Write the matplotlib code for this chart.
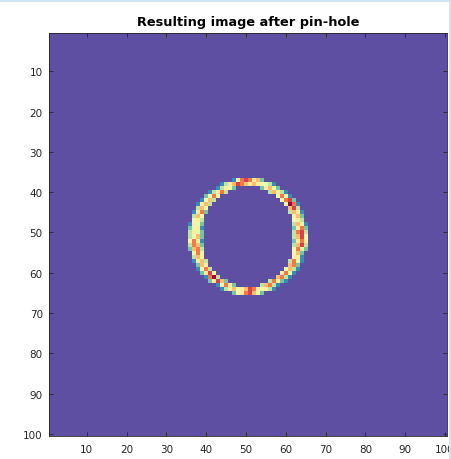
import matplotlib
matplotlib.use("Agg")
import matplotlib.pyplot as plt
import numpy as np
from matplotlib.patches import Rectangle

TITLE = "Resulting image after pin-hole"
GRID_SIZE = 100
TICKS = [10, 20, 30, 40, 50, 60, 70, 80, 90, 100]
LEVEL_MAX = 9

# ring cells: (row, first column, levels 1-9 per cell)
RING_SEGMENTS = [
    (37, 47, "14787562"),
    (38, 44, "13568765654431"),
    (39, 43, "13542"), (39, 54, "25642"),
    (40, 41, "13573"), (40, 56, "36531"),
    (41, 40, "2474"), (41, 58, "4741"),
    (42, 39, "1463"), (42, 59, "4782"),
    (43, 38, "1563"), (43, 60, "4971"),
    (44, 38, "364"), (44, 61, "683"),
    (45, 37, "1572"), (45, 61, "3651"),
    (46, 37, "364"), (46, 62, "562"),
    (47, 37, "453"), (47, 62, "453"),
    (48, 36, "1542"), (48, 62, "3651"),
    (49, 36, "2451"), (49, 62, "2572"),
    (50, 36, "3542"), (50, 62, "3783"),
    (51, 36, "3462"), (51, 62, "3684"),
    (52, 36, "4751"), (52, 62, "2575"),
    (53, 36, "3762"), (53, 62, "3683"),
    (54, 36, "2673"), (54, 62, "4752"),
    (55, 37, "474"), (55, 62, "462"),
    (56, 37, "365"), (56, 62, "551"),
    (57, 37, "1563"), (57, 61, "3741"),
    (58, 38, "265"), (58, 61, "672"),
    (59, 38, "1473"), (59, 60, "4631"),
    (60, 39, "2584"), (60, 59, "5741"),
    (61, 40, "1793"), (61, 58, "6731"),
    (62, 41, "25862"), (62, 56, "37521"),
    (63, 43, "14752"), (63, 54, "36731"),
    (64, 44, "13564568754531"),
    (65, 47, "24578642"),
]


def build_image():
    img = np.zeros((GRID_SIZE, GRID_SIZE))
    for row, col, levels in RING_SEGMENTS:
        for k, ch in enumerate(levels):
            img[row - 1, col - 1 + k] = int(ch)
    return img


def main():
    img = build_image()
    text_color = "#262626"

    fig = plt.figure(figsize=(4.52, 4.60), dpi=100)
    ax = fig.add_axes([49 / 452, 23 / 460, 398 / 452, 403 / 460])
    ax.imshow(img, cmap="Spectral_r", vmin=0, vmax=LEVEL_MAX,
              interpolation="nearest", aspect="auto",
              extent=(0.5, GRID_SIZE + 0.5, GRID_SIZE + 0.5, 0.5))

    ax.set_xticks(TICKS)
    ax.set_yticks(TICKS)
    ax.tick_params(direction="in", length=3, width=0.6, top=True, right=True,
                   labelsize=7.5, colors=text_color)
    ax.tick_params(axis="x", pad=5.5)
    ax.tick_params(axis="y", pad=4.5)
    for spine in ax.spines.values():
        spine.set_color(text_color)
        spine.set_linewidth(0.6)
    ax.set_title(TITLE, fontsize=9.3, fontweight="bold", color="black", pad=6)

    # window frame strips seen along the top and right edge of the screenshot
    frame = "#cfe5f5"
    fig.patches.append(Rectangle((0, 1 - 3 / 460), 1, 3 / 460, transform=fig.transFigure,
                                 facecolor=frame, edgecolor="none", zorder=10))
    fig.patches.append(Rectangle((449 / 452, 0), 3 / 452, 1, transform=fig.transFigure,
                                 facecolor=frame, edgecolor="none", zorder=10))

    fig.savefig("out.png", dpi=100)
    plt.close(fig)


if __name__ == "__main__":
    main()
